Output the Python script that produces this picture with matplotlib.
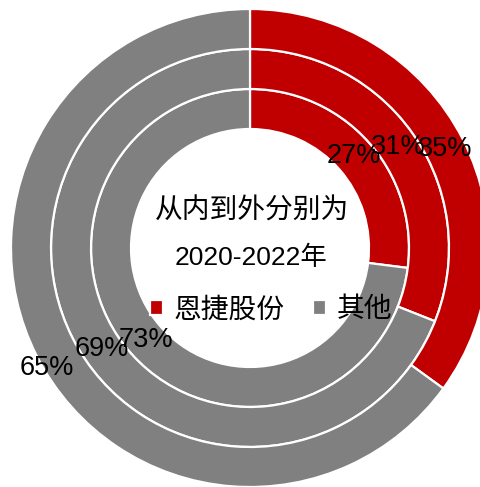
import matplotlib.pyplot as plt

plt.rcParams['font.family'] = ['Liberation Sans', 'Noto Sans CJK SC']

# 从内到外: 2020, 2021, 2022
years = ['2020', '2021', '2022']
enjie_share = [27, 31, 35]
other_share = [73, 69, 65]
labels = ['恩捷股份', '其他']
colors = ['#C00000', '#808080']

fig = plt.figure(figsize=(4.81, 4.87), dpi=100)
ax = fig.add_axes([10 / 481, -1 / 487, 480 / 481, 480 / 487])

outer = 239
width = 40
radii = [outer - 2 * width, outer - width, outer]

wedges = None
for r, a, b in zip(radii, enjie_share, other_share):
    wedges, _, autotexts = ax.pie(
        [a, b], radius=r, colors=colors, startangle=90, counterclock=False,
        autopct='%.0f%%', pctdistance=(r - width / 2) / r,
        wedgeprops=dict(width=width, edgecolor='white', linewidth=1.6),
        textprops=dict(fontsize=19.5, color='black'))

# outermost grey label sits lower-left in the original
autotexts[1].set_position((-203, -120))

ax.set_xlim(-240, 240)
ax.set_ylim(-240, 240)
ax.set_aspect('equal')
ax.axis('off')

ax.text(2, 36, '从内到外分别为', ha='center', va='center', fontsize=20)
ax.text(1, -10, '2020-2022年', ha='center', va='center', fontsize=19)

leg = ax.legend(wedges, labels, ncol=2, loc='center', bbox_to_anchor=(0.544, 0.37),
                frameon=False, fontsize=20, handlelength=0.48, handleheight=0.48,
                handletextpad=0.38, columnspacing=1.0)

fig.savefig('out.png', dpi=100)
